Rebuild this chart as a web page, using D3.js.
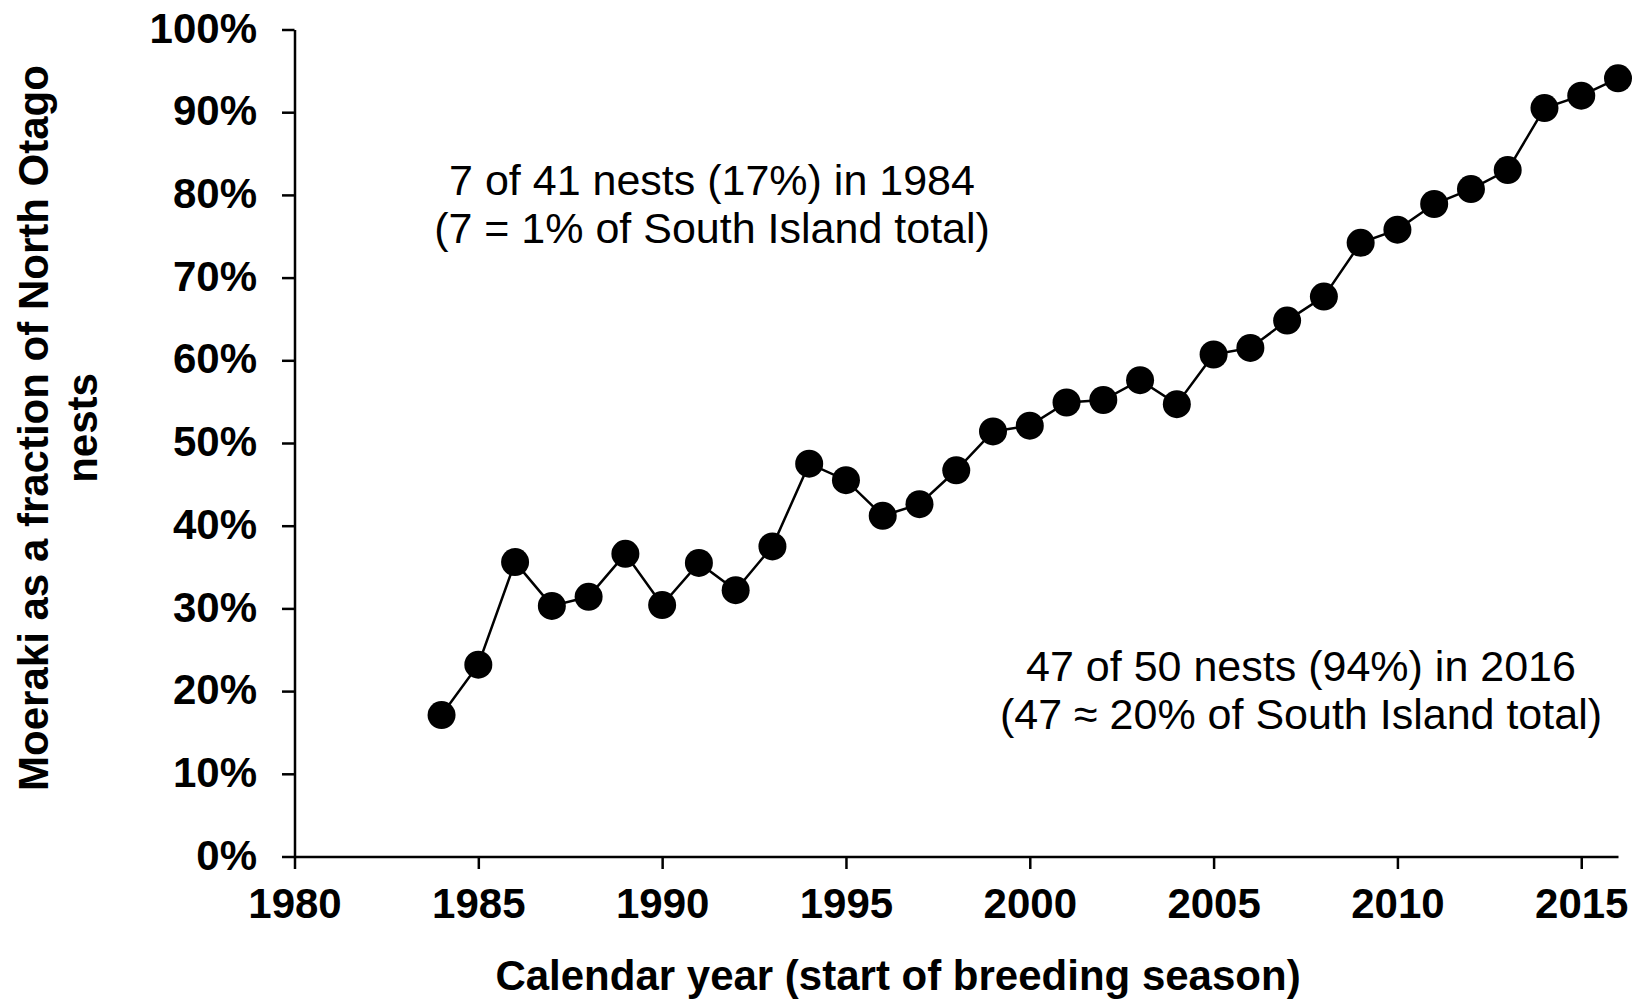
<!DOCTYPE html>
<html>
<head>
<meta charset="utf-8">
<script src="https://cdn.jsdelivr.net/npm/d3@7"></script>
<style>
  body { margin: 0; background: #fff; }
  svg text { font-family: "Liberation Sans", Arial, sans-serif; }
</style>
</head>
<body>
<div id="main-container"></div>
<script>
const WIDTH = 1638;
const HEIGHT = 999;

// data
const YEARS = [1984, 1985, 1986, 1987, 1988, 1989, 1990, 1991, 1992, 1993, 1994, 1995, 1996, 1997, 1998, 1999,
  2000, 2001, 2002, 2003, 2004, 2005, 2006, 2007, 2008, 2009, 2010, 2011, 2012, 2013, 2014, 2015, 2016];
const FRACTIONS = [17.1, 23.2, 35.6, 30.3, 31.4, 36.6, 30.4, 35.5, 32.2, 37.5, 47.5, 45.5, 41.2, 42.6, 46.7, 51.4,
  52.1, 54.9, 55.2, 57.6, 54.7, 60.7, 61.5, 64.8, 67.7, 74.2, 75.8, 78.9, 80.7, 83.0, 90.5, 92.0, 94.1];
const X_TICKS = [1980, 1985, 1990, 1995, 2000, 2005, 2010, 2015];
const Y_TICKS = [0, 10, 20, 30, 40, 50, 60, 70, 80, 90, 100];
const Y_TITLE = ['Moeraki as a fraction of North Otago', 'nests'];
const X_TITLE = 'Calendar year (start of breeding season)';
const NOTE_1984 = ['7 of 41 nests (17%) in 1984', '(7 = 1% of South Island total)'];
const NOTE_2016 = ['47 of 50 nests (94%) in 2016', '(47 \u2248 20% of South Island total)'];

const X_LEFT = 294.5;
const X_RIGHT = 1618;
const Y_TOP = 29.5;
const Y_BOTTOM = 856.5;
const DOT_R = 14;
const TICK = 12.5;

const X_SCALE = d3.scaleLinear().domain([1980, 2016]).range([X_LEFT, X_RIGHT]);
const Y_SCALE = d3.scaleLinear().domain([0, 100]).range([Y_BOTTOM, Y_TOP]);

const SVG = d3.select('#main-container')
  .append('svg')
  .attr('width', WIDTH)
  .attr('height', HEIGHT);

// axes
const xAxis = SVG.append('g')
  .attr('transform', `translate(0, ${Y_BOTTOM})`)
  .call(d3.axisBottom(X_SCALE).tickValues(X_TICKS).tickFormat(d3.format('d'))
    .tickSize(TICK).tickSizeOuter(0).tickPadding(19));

const yAxis = SVG.append('g')
  .attr('transform', `translate(${X_LEFT}, 0)`)
  .call(d3.axisLeft(Y_SCALE).tickValues(Y_TICKS).tickFormat(d => d + '%')
    .tickSize(TICK).tickSizeOuter(0).tickPadding(25));

[xAxis, yAxis].forEach(ax => {
  ax.selectAll('path, line').attr('stroke', '#000').attr('stroke-width', 2.5);
  ax.selectAll('text')
    .attr('fill', '#000')
    .style('font-size', '42px')
    .style('font-weight', 'bold');
});
xAxis.selectAll('text').attr('dy', '0.71em');
yAxis.selectAll('text').attr('dy', '0.3em');

// line + dots
const DATA = YEARS.map((y, i) => ({ year: y, value: FRACTIONS[i] }));

SVG.append('path')
  .datum(DATA)
  .attr('fill', 'none')
  .attr('stroke', '#000')
  .attr('stroke-width', 2.5)
  .attr('d', d3.line().x(d => X_SCALE(d.year)).y(d => Y_SCALE(d.value)));

SVG.selectAll('circle.dot')
  .data(DATA)
  .enter()
  .append('circle')
  .attr('class', 'dot')
  .attr('cx', d => X_SCALE(d.year))
  .attr('cy', d => Y_SCALE(d.value))
  .attr('r', DOT_R)
  .attr('fill', '#000');

// axis titles
SVG.append('text')
  .attr('x', 898)
  .attr('y', 990)
  .attr('text-anchor', 'middle')
  .style('font-size', '42px')
  .style('font-weight', 'bold')
  .text(X_TITLE);

SVG.selectAll('text.ytitle')
  .data(Y_TITLE)
  .enter()
  .append('text')
  .attr('class', 'ytitle')
  .attr('transform', (d, i) => `translate(${48 + i * 49}, 428) rotate(-90)`)
  .attr('text-anchor', 'middle')
  .style('font-size', '42px')
  .style('font-weight', 'bold')
  .text(d => d);

// annotations
const note = (lines, cx, y0) => {
  SVG.selectAll(null)
    .data(lines)
    .enter()
    .append('text')
    .attr('x', cx)
    .attr('y', (d, i) => y0 + i * 48)
    .attr('text-anchor', 'middle')
    .style('font-size', '43px')
    .text(d => d);
};
note(NOTE_1984, 712, 195);
note(NOTE_2016, 1301, 681);
</script>
</body>
</html>
